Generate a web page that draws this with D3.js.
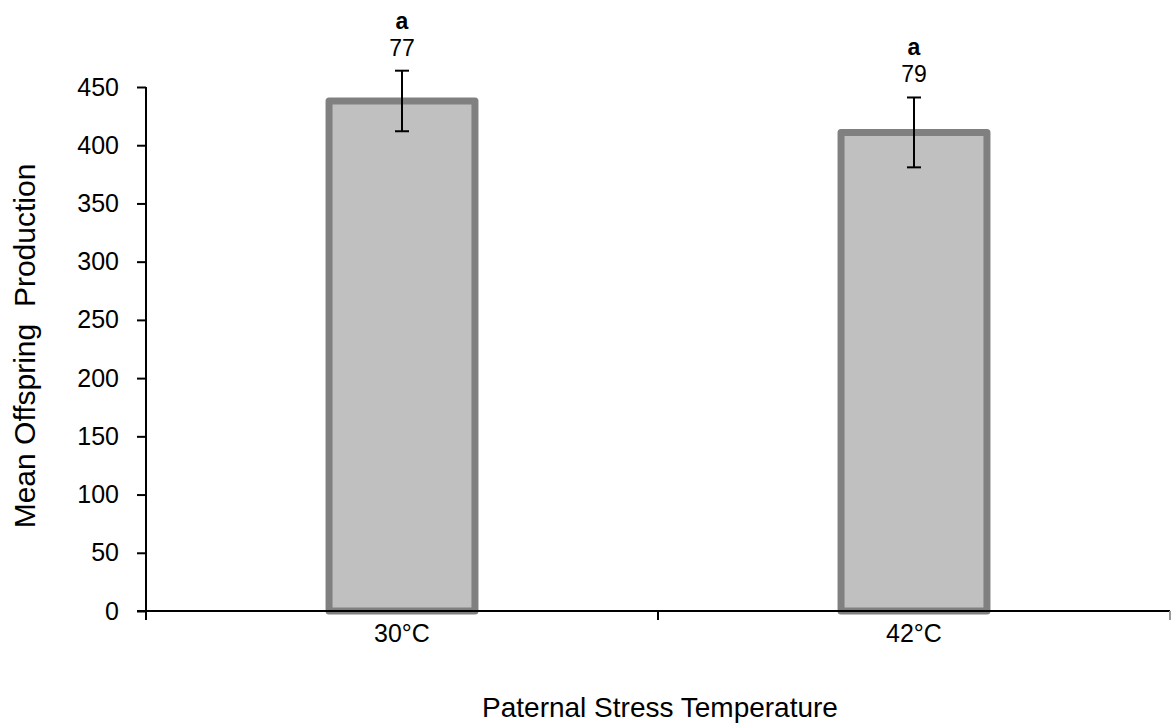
<!DOCTYPE html>
<html>
<head>
<meta charset="utf-8">
<script src="https://cdn.jsdelivr.net/npm/d3@7"></script>
<style>
  html, body { margin: 0; padding: 0; background: #fff; }
  svg { display: block; font-family: "Liberation Sans", Arial, sans-serif; }
</style>
</head>
<body>
<svg id="chart" width="1171" height="725"></svg>
<script>
// Mean offspring production by paternal stress temperature
const categories = ["30°C", "42°C"];
const means = [438, 411];
const errors = [26, 30];
const sampleSizes = ["77", "79"];
const groupLetters = ["a", "a"];
const yTicks = [0, 50, 100, 150, 200, 250, 300, 350, 400, 450];

const svg = d3.select("#chart");
const plotLeft = 146, plotRight = 1170, plotTop = 87, plotBottom = 611;

const x = d3.scaleBand().domain(categories).range([plotLeft, plotRight]).padding(0);
const y = d3.scaleLinear().domain([0, 450]).range([plotBottom, plotTop]);
const barW = x.bandwidth() * 0.285;

// bars
svg.append("g").selectAll("rect")
  .data(categories)
  .join("rect")
  .attr("x", d => x(d) + x.bandwidth() / 2 - barW / 2)
  .attr("y", (d, i) => y(means[i]))
  .attr("width", barW)
  .attr("height", (d, i) => y(0) - y(means[i]))
  .attr("fill", "#c0c0c0")
  .attr("stroke", "#808080")
  .attr("stroke-width", 7)
  .attr("stroke-linejoin", "round");

// error bars
const eb = svg.append("g").attr("stroke", "#000").attr("stroke-width", 2);
categories.forEach((c, i) => {
  const cx = x(c) + x.bandwidth() / 2;
  const y1 = y(means[i] + errors[i]), y2 = y(means[i] - errors[i]);
  eb.append("line").attr("x1", cx).attr("x2", cx).attr("y1", y1).attr("y2", y2);
  eb.append("line").attr("x1", cx - 7).attr("x2", cx + 7).attr("y1", y1).attr("y2", y1);
  eb.append("line").attr("x1", cx - 7).attr("x2", cx + 7).attr("y1", y2).attr("y2", y2);
});

// sample sizes and group letters above the error bars
const lab = svg.append("g").attr("text-anchor", "middle").attr("fill", "#000");
categories.forEach((c, i) => {
  const cx = x(c) + x.bandwidth() / 2;
  const yt = y(means[i] + errors[i]);
  lab.append("text").attr("x", cx).attr("y", yt - 15)
    .attr("font-size", 23).text(sampleSizes[i]);
  lab.append("text").attr("x", cx).attr("y", yt - 42)
    .attr("font-size", 23).attr("font-weight", "bold").text(groupLetters[i]);
});

// y axis
const yAxis = svg.append("g")
  .attr("transform", `translate(${plotLeft},0)`)
  .call(d3.axisLeft(y).tickValues(yTicks).tickSize(9).tickPadding(18).tickSizeOuter(0));
yAxis.select(".domain").attr("stroke", "#000").attr("stroke-width", 2)
  .attr("d", `M0,${plotTop}V${plotBottom + 9}`);
yAxis.selectAll(".tick line").attr("stroke", "#000").attr("stroke-width", 2);
yAxis.selectAll(".tick text").attr("font-size", 25).attr("fill", "#000")
  .attr("font-family", "Liberation Sans, Arial, sans-serif");

// x axis
const xAxis = svg.append("g").attr("transform", `translate(0,${plotBottom})`);
xAxis.append("line").attr("x1", plotLeft - 9).attr("x2", plotRight).attr("y1", 0).attr("y2", 0)
  .attr("stroke", "#000").attr("stroke-width", 2);
const bounds = [plotLeft, x(categories[1]), plotRight];
xAxis.selectAll("line.b").data(bounds).join("line").attr("class", "b")
  .attr("x1", d => d).attr("x2", d => d).attr("y1", 0).attr("y2", 9)
  .attr("stroke", (d, i) => i === 2 ? "#999" : "#000").attr("stroke-width", 2);
xAxis.selectAll("text").data(categories).join("text")
  .attr("x", d => x(d) + x.bandwidth() / 2)
  .attr("y", 31)
  .attr("text-anchor", "middle")
  .attr("font-size", 25)
  .attr("fill", "#000")
  .text(d => d);

// axis titles
svg.append("text")
  .attr("transform", "translate(35,346) rotate(-90)")
  .attr("text-anchor", "middle")
  .attr("font-size", 30)
  .attr("fill", "#000")
  .attr("xml:space", "preserve")
  .style("white-space", "pre")
  .text("Mean Offspring  Production");

svg.append("text")
  .attr("x", 660)
  .attr("y", 717)
  .attr("text-anchor", "middle")
  .attr("font-size", 28)
  .attr("fill", "#000")
  .text("Paternal Stress Temperature");
</script>
</body>
</html>
